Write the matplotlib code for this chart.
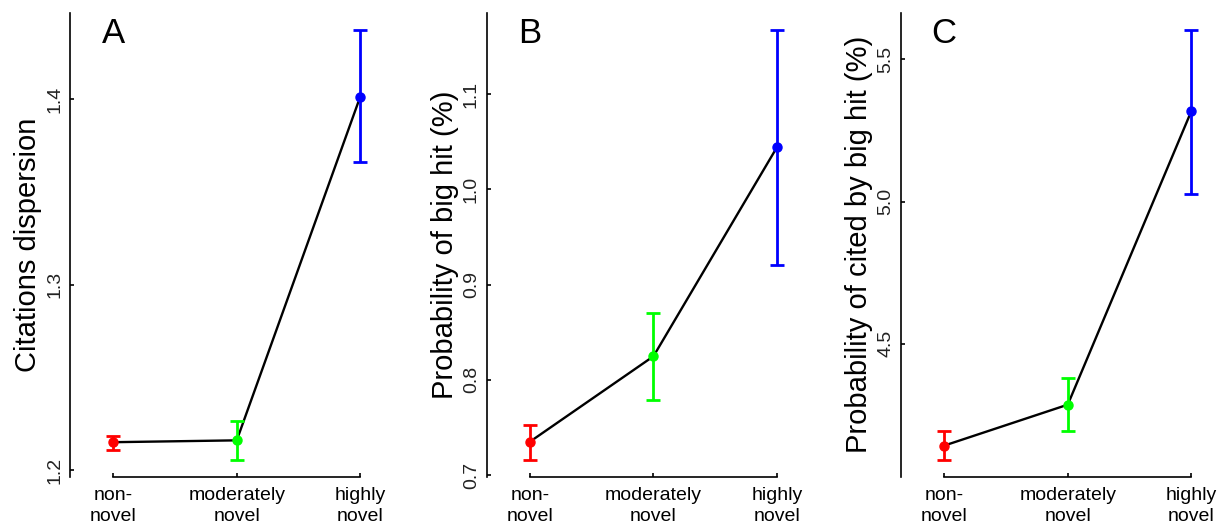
import numpy as np
import matplotlib
matplotlib.use("Agg")
import matplotlib.pyplot as plt
from matplotlib.transforms import blended_transform_factory

plt.rcParams['font.family'] = ['Liberation Sans', 'DejaVu Sans']

# categories on the x axis
groups = ["non-\nnovel", "moderately\nnovel", "highly\nnovel"]
group_colors = ["#ff0000", "#00ff00", "#0000ff"]

# panel A: citations dispersion
disp_mean = [1.2150, 1.2160, 1.4015]
disp_low = [1.2110, 1.2055, 1.3660]
disp_high = [1.2185, 1.2265, 1.4375]

# panel B: probability of big hit (%)
hit_mean = [0.7350, 0.8247, 1.0442]
hit_low = [0.7160, 0.7785, 0.9206]
hit_high = [0.7530, 0.8700, 1.1674]

# panel C: probability of cited by big hit (%)
cited_mean = [4.141, 4.285, 5.3175]
cited_low = [4.091, 4.191, 5.026]
cited_high = [4.191, 4.378, 5.604]

panels = [
    ("A", "Citations dispersion", disp_mean, disp_low, disp_high, [1.2, 1.3, 1.4]),
    ("B", "Probability of big hit (%)", hit_mean, hit_low, hit_high, [0.7, 0.8, 0.9, 1.0, 1.1]),
    ("C", "Probability of cited by big hit (%)", cited_mean, cited_low, cited_high, [4.5, 5.0, 5.5]),
]

W, H = 1219, 529
fig = plt.figure(figsize=(W / 100, H / 100), dpi=100)

# axes placement in pixels (left edge of each y axis)
lefts = [70, 486.7, 901]
ax_w = 333.5
ax_top = 12.7
ax_bot = 477

x = np.arange(1, 4)

for (letter, ylab, mean, low, high, yt), left in zip(panels, lefts):
    ax = fig.add_axes([left / W, (H - ax_bot) / H, ax_w / W, (ax_bot - ax_top) / H])
    mean = np.array(mean)
    low = np.array(low)
    high = np.array(high)

    # black connecting line
    ax.plot(x, mean, color="black", lw=1.7, zorder=2)
    # coloured error bars + points
    for i in range(3):
        ax.errorbar(x[i], mean[i],
                    yerr=[[mean[i] - low[i]], [high[i] - mean[i]]],
                    fmt="o", color=group_colors[i], ms=6.5, elinewidth=2,
                    capsize=5.3, capthick=2, zorder=3)

    # R style axis range: data range extended by 4%
    lo, hi = low.min(), high.max()
    pad = 0.04 * (hi - lo)
    ax.set_ylim(lo - pad, hi + pad)
    ax.set_xlim(0.65, 3.35)

    ax.spines["top"].set_visible(False)
    ax.spines["right"].set_visible(False)
    ax.spines["bottom"].set_bounds(1, 3)
    ax.spines["left"].set_linewidth(1.2)
    ax.spines["bottom"].set_linewidth(1.2)

    ax.set_yticks(yt)
    ax.set_yticklabels(["%.1f" % v for v in yt], rotation=90, va="center")
    ax.set_xticks(x)
    ax.set_xticklabels(groups, fontsize=14, linespacing=1.35)
    ax.tick_params(axis="y", direction="in", length=3, width=1.2, pad=5,
                   labelsize=14, labelcolor="#222222")
    ax.tick_params(axis="x", direction="in", length=3, width=1.2, pad=7)

    ax.set_ylabel(ylab, fontsize=21, va="center")
    ax.yaxis.set_label_coords(-42 / ax_w, 0.5)

    trans = blended_transform_factory(ax.transData, ax.transAxes)
    ax.text(1, 0.934, letter, transform=trans, fontsize=25, ha="center", va="baseline")

fig.savefig("out.png", dpi=100)
